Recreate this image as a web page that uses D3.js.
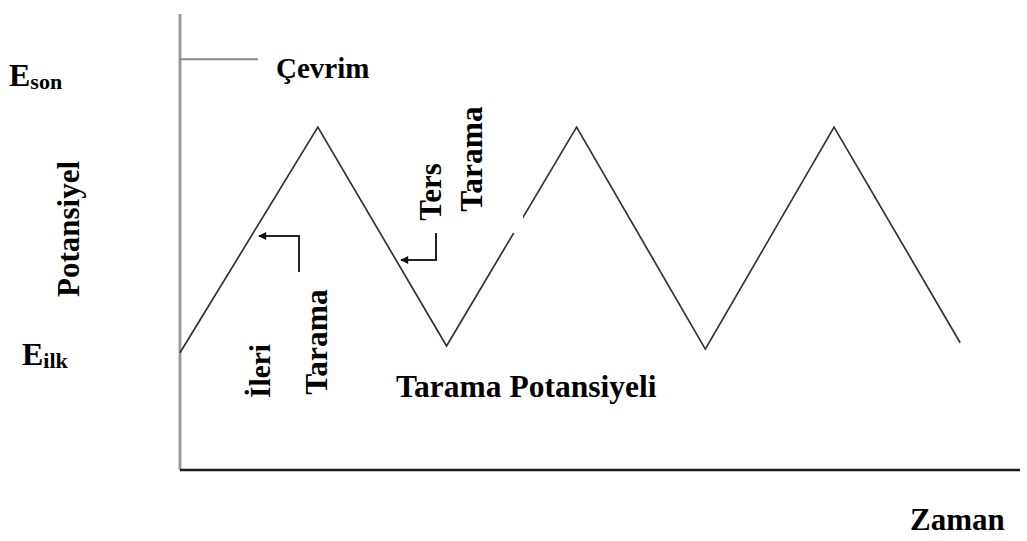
<!DOCTYPE html>
<html>
<head>
<meta charset="utf-8">
<script src="https://cdn.jsdelivr.net/npm/d3@7/dist/d3.min.js"></script>
<style>
  html, body { margin: 0; padding: 0; background: #fff; }
  svg { display: block; }
</style>
</head>
<body>
<svg id="chart" width="1027" height="541"></svg>
<script>
// Triangular potential sweep of cyclic voltammetry (time in half-cycle units, potential normalised)
const sweepTimes = [0, 1.06, 2.05, 3.05, 4.04, 5.03, 6.0];
const sweepPotentials = [0.257, 0.752, 0.272, 0.752, 0.265, 0.752, 0.279];
const eStart = 0.257;   // E_ilk
const eEnd = 0.901;     // E_son marker level

const FONT = "'Liberation Serif', 'Times New Roman', Tinos, 'DejaVu Serif', serif";

const svg = d3.select("#chart");

const x = d3.scaleLinear().domain([0, 6.46]).range([180, 1020]);
const y = d3.scaleLinear().domain([0, 1]).range([470, 14]);

// Axes: plain lines, no ticks
svg.append("line")
  .attr("x1", x(0)).attr("x2", x(0))
  .attr("y1", y(1)).attr("y2", y(0))
  .attr("stroke", "#9a9a9a").attr("stroke-width", 3);

svg.append("line")
  .attr("x1", x(0)).attr("x2", x(6.46))
  .attr("y1", y(0)).attr("y2", y(0))
  .attr("stroke", "#1a1a1a").attr("stroke-width", 2.5);

// Cycle marker at E_son level
svg.append("line")
  .attr("x1", x(0)).attr("x2", x(0.6))
  .attr("y1", y(eEnd)).attr("y2", y(eEnd))
  .attr("stroke", "#8a8a8a").attr("stroke-width", 2);

// Sweep waveform
const line = d3.line().x((d, i) => x(sweepTimes[i])).y(d => y(d));
svg.append("path")
  .datum(sweepPotentials)
  .attr("d", line)
  .attr("fill", "none")
  .attr("stroke", "#333")
  .attr("stroke-width", 1.7)
  .attr("stroke-linejoin", "miter");

// White backing behind the reverse-scan label
svg.append("rect")
  .attr("x", 395).attr("y", 140)
  .attr("width", 128).attr("height", 93)
  .attr("fill", "#fff");

// Arrow marker
const defs = svg.append("defs");
defs.append("marker")
  .attr("id", "head")
  .attr("viewBox", "0 0 10 10")
  .attr("refX", 9).attr("refY", 5)
  .attr("markerWidth", 5).attr("markerHeight", 4)
  .attr("markerUnits", "strokeWidth")
  .attr("orient", "auto")
  .append("path")
  .attr("d", "M0,0 L10,5 L0,10 z")
  .attr("fill", "#111");

function elbowArrow(pts) {
  svg.append("path")
    .attr("d", d3.line()(pts))
    .attr("fill", "none")
    .attr("stroke", "#222")
    .attr("stroke-width", 2)
    .attr("marker-end", "url(#head)");
}
elbowArrow([[299, 272], [299, 236], [259, 236]]);
elbowArrow([[436, 233], [436, 260], [401, 260]]);

// Labels
function label(sel) {
  return sel.attr("font-family", FONT).attr("font-weight", "bold").attr("fill", "#000");
}

const eSon = label(svg.append("text")).attr("x", 9).attr("y", y(eEnd) + 27).attr("font-size", 32);
eSon.append("tspan").text("E");
eSon.append("tspan").attr("dy", 3).attr("font-size", 22).text("son");

const eIlk = label(svg.append("text")).attr("x", 22).attr("y", y(eStart) + 12).attr("font-size", 32);
eIlk.append("tspan").text("E");
eIlk.append("tspan").attr("dy", 3).attr("font-size", 22).text("ilk");

label(svg.append("text")).attr("x", 276).attr("y", 78).attr("font-size", 29).text("Çevrim");

function vText(t, bx, cy, size) {
  label(svg.append("text"))
    .attr("transform", `translate(${bx},${cy}) rotate(-90)`)
    .attr("text-anchor", "middle")
    .attr("font-size", size)
    .text(t);
}
vText("Potansiyel", 79, 229, 31);
vText("İleri", 270, 371, 29.5);
vText("Tarama", 327, 342, 31.5);
vText("Ters", 441, 192, 31);
vText("Tarama", 482, 159, 31.5);

label(svg.append("text")).attr("x", 396).attr("y", 397).attr("font-size", 31.5).text("Tarama Potansiyeli");
label(svg.append("text")).attr("x", 910).attr("y", 530).attr("font-size", 31).text("Zaman");
</script>
</body>
</html>
